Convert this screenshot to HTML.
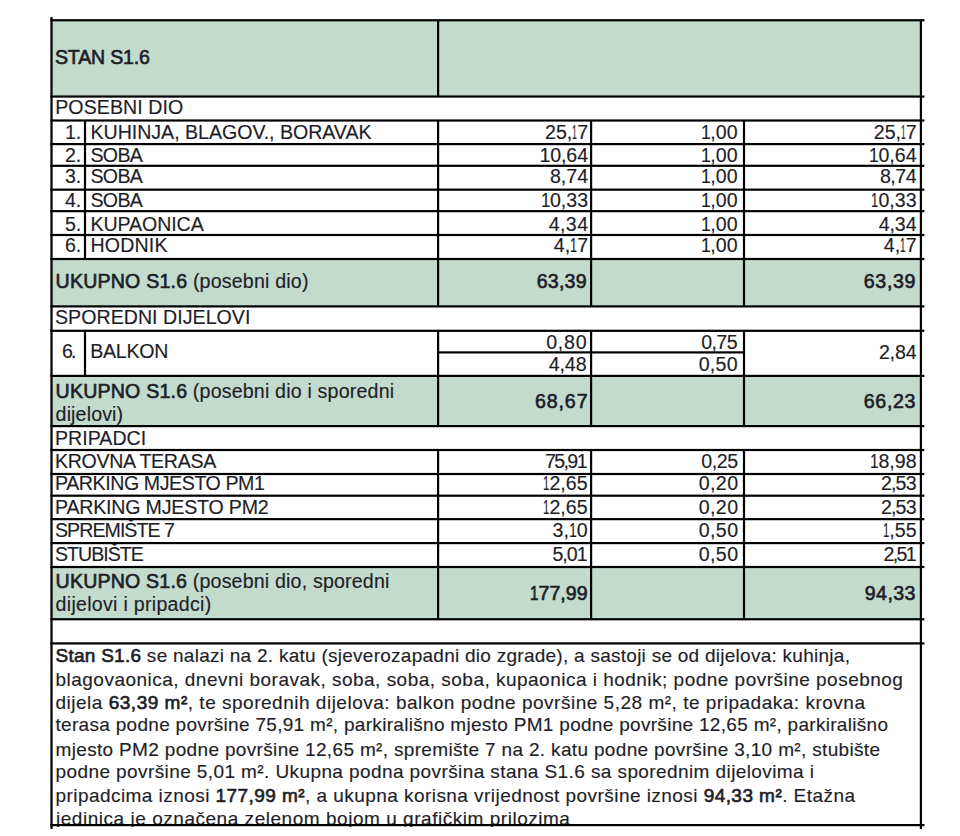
<!DOCTYPE html>
<html><head><meta charset="utf-8"><style>
html,body{margin:0;padding:0;background:#fff;width:960px;height:836px;overflow:hidden;position:relative}
body>div,body>svg{position:absolute}
.t{font-family:"Liberation Sans",sans-serif;color:#1e1e28;white-space:pre;-webkit-text-stroke:0.15px #1e1e28}
b{font-weight:normal;-webkit-text-stroke:0.65px #1e1e28}
</style></head><body>
<div style="left:51.5px;top:20.25px;width:869.4px;height:76.3px;background:#c2dbcd"></div>
<div style="left:51.5px;top:259px;width:869.4px;height:47.39999999999998px;background:#c2dbcd"></div>
<div style="left:51.5px;top:375.9px;width:869.4px;height:50.200000000000045px;background:#c2dbcd"></div>
<div style="left:51.5px;top:567px;width:869.4px;height:52.25px;background:#c2dbcd"></div>
<div class="t" style="left:55.00px;top:48.41px;font-size:19.6px;line-height:19.6px;letter-spacing:-0.200px"><b>STAN S1.6</b></div>
<div class="t" style="left:55.20px;top:98.41px;font-size:19.6px;line-height:19.6px;letter-spacing:0.070px">POSEBNI DIO</div>
<div class="t" style="left:64.90px;top:122.91px;font-size:19.6px;line-height:19.6px;letter-spacing:0.000px">1.</div>
<div class="t" style="left:90.50px;top:122.91px;font-size:19.6px;line-height:19.6px;letter-spacing:-0.025px">KUHINJA, BLAGOV., BORAVAK</div>
<div class="t" style="left:545.00px;top:122.91px;font-size:19.6px;line-height:19.6px;letter-spacing:0.000px">25,<span style="display:inline-block;width:4.90px"><span style="display:inline-block;transform:scaleX(0.450);transform-origin:0 0">1</span></span>7</div>
<div class="t" style="left:700.50px;top:122.91px;font-size:19.6px;line-height:19.6px;letter-spacing:0.000px"><span style="display:inline-block;width:9.80px"><span style="display:inline-block;transform:scaleX(0.899);transform-origin:0 0">1</span></span>,00</div>
<div class="t" style="left:873.75px;top:122.91px;font-size:19.6px;line-height:19.6px;letter-spacing:0.000px">25,<span style="display:inline-block;width:4.65px"><span style="display:inline-block;transform:scaleX(0.427);transform-origin:0 0">1</span></span>7</div>
<div class="t" style="left:64.90px;top:145.91px;font-size:19.6px;line-height:19.6px;letter-spacing:0.000px">2.</div>
<div class="t" style="left:90.50px;top:145.91px;font-size:19.6px;line-height:19.6px;letter-spacing:-0.700px">SOBA</div>
<div class="t" style="left:539.50px;top:145.91px;font-size:19.6px;line-height:19.6px;letter-spacing:-0.125px">10,64</div>
<div class="t" style="left:700.50px;top:145.91px;font-size:19.6px;line-height:19.6px;letter-spacing:0.000px"><span style="display:inline-block;width:9.80px"><span style="display:inline-block;transform:scaleX(0.899);transform-origin:0 0">1</span></span>,00</div>
<div class="t" style="left:868.75px;top:145.91px;font-size:19.6px;line-height:19.6px;letter-spacing:0.000px"><span style="display:inline-block;width:9.65px"><span style="display:inline-block;transform:scaleX(0.885);transform-origin:0 0">1</span></span>0,64</div>
<div class="t" style="left:64.90px;top:167.41px;font-size:19.6px;line-height:19.6px;letter-spacing:0.000px">3.</div>
<div class="t" style="left:90.50px;top:167.41px;font-size:19.6px;line-height:19.6px;letter-spacing:-0.700px">SOBA</div>
<div class="t" style="left:550.00px;top:167.41px;font-size:19.6px;line-height:19.6px;letter-spacing:-0.033px">8,74</div>
<div class="t" style="left:700.50px;top:167.41px;font-size:19.6px;line-height:19.6px;letter-spacing:0.000px"><span style="display:inline-block;width:9.80px"><span style="display:inline-block;transform:scaleX(0.899);transform-origin:0 0">1</span></span>,00</div>
<div class="t" style="left:880.00px;top:167.41px;font-size:19.6px;line-height:19.6px;letter-spacing:-0.533px">8,74</div>
<div class="t" style="left:64.90px;top:190.91px;font-size:19.6px;line-height:19.6px;letter-spacing:0.000px">4.</div>
<div class="t" style="left:90.50px;top:190.91px;font-size:19.6px;line-height:19.6px;letter-spacing:-0.700px">SOBA</div>
<div class="t" style="left:540.50px;top:190.91px;font-size:19.6px;line-height:19.6px;letter-spacing:0.000px"><span style="display:inline-block;width:9.40px"><span style="display:inline-block;transform:scaleX(0.862);transform-origin:0 0">1</span></span>0,33</div>
<div class="t" style="left:700.50px;top:190.91px;font-size:19.6px;line-height:19.6px;letter-spacing:0.000px"><span style="display:inline-block;width:9.80px"><span style="display:inline-block;transform:scaleX(0.899);transform-origin:0 0">1</span></span>,00</div>
<div class="t" style="left:871.25px;top:190.91px;font-size:19.6px;line-height:19.6px;letter-spacing:0.000px"><span style="display:inline-block;width:7.15px"><span style="display:inline-block;transform:scaleX(0.656);transform-origin:0 0">1</span></span>0,33</div>
<div class="t" style="left:64.90px;top:214.91px;font-size:19.6px;line-height:19.6px;letter-spacing:0.000px">5.</div>
<div class="t" style="left:90.50px;top:214.91px;font-size:19.6px;line-height:19.6px;letter-spacing:-0.094px">KUPAONICA</div>
<div class="t" style="left:548.75px;top:214.91px;font-size:19.6px;line-height:19.6px;letter-spacing:0.383px">4,34</div>
<div class="t" style="left:700.50px;top:214.91px;font-size:19.6px;line-height:19.6px;letter-spacing:0.000px"><span style="display:inline-block;width:9.80px"><span style="display:inline-block;transform:scaleX(0.899);transform-origin:0 0">1</span></span>,00</div>
<div class="t" style="left:878.75px;top:214.91px;font-size:19.6px;line-height:19.6px;letter-spacing:-0.117px">4,34</div>
<div class="t" style="left:64.90px;top:235.91px;font-size:19.6px;line-height:19.6px;letter-spacing:0.000px">6.</div>
<div class="t" style="left:90.50px;top:235.91px;font-size:19.6px;line-height:19.6px;letter-spacing:0.160px">HODNIK</div>
<div class="t" style="left:553.75px;top:235.91px;font-size:19.6px;line-height:19.6px;letter-spacing:0.000px">4,<span style="display:inline-block;width:7.05px"><span style="display:inline-block;transform:scaleX(0.647);transform-origin:0 0">1</span></span>7</div>
<div class="t" style="left:700.50px;top:235.91px;font-size:19.6px;line-height:19.6px;letter-spacing:0.000px"><span style="display:inline-block;width:9.80px"><span style="display:inline-block;transform:scaleX(0.899);transform-origin:0 0">1</span></span>,00</div>
<div class="t" style="left:883.75px;top:235.91px;font-size:19.6px;line-height:19.6px;letter-spacing:0.000px">4,<span style="display:inline-block;width:5.55px"><span style="display:inline-block;transform:scaleX(0.509);transform-origin:0 0">1</span></span>7</div>
<div class="t" style="left:55.60px;top:272.41px;font-size:19.6px;line-height:19.6px;letter-spacing:0.188px"><b>UKUPNO S1.6</b> (posebni dio)</div>
<div class="t" style="left:536.80px;top:272.41px;font-size:19.6px;line-height:19.6px;letter-spacing:0.175px"><b>63,39</b></div>
<div class="t" style="left:863.70px;top:272.41px;font-size:19.6px;line-height:19.6px;letter-spacing:0.700px"><b>63,39</b></div>
<div class="t" style="left:55.00px;top:308.41px;font-size:19.6px;line-height:19.6px;letter-spacing:0.031px">SPOREDNI DIJELOVI</div>
<div class="t" style="left:62.00px;top:342.41px;font-size:19.6px;line-height:19.6px;letter-spacing:-1.800px">6.</div>
<div class="t" style="left:90.30px;top:342.41px;font-size:19.6px;line-height:19.6px;letter-spacing:-0.280px">BALKON</div>
<div class="t" style="left:546.25px;top:332.91px;font-size:19.6px;line-height:19.6px;letter-spacing:0.717px">0,80</div>
<div class="t" style="left:701.25px;top:332.91px;font-size:19.6px;line-height:19.6px;letter-spacing:-0.617px">0,75</div>
<div class="t" style="left:548.75px;top:355.41px;font-size:19.6px;line-height:19.6px;letter-spacing:-0.117px">4,48</div>
<div class="t" style="left:698.75px;top:355.41px;font-size:19.6px;line-height:19.6px;letter-spacing:0.217px">0,50</div>
<div class="t" style="left:878.90px;top:342.91px;font-size:19.6px;line-height:19.6px;letter-spacing:-0.167px">2,84</div>
<div class="t" style="left:55.60px;top:382.41px;font-size:19.6px;line-height:19.6px;letter-spacing:0.185px"><b>UKUPNO S1.6</b> (posebni dio i sporedni</div>
<div class="t" style="left:55.60px;top:405.41px;font-size:19.6px;line-height:19.6px;letter-spacing:0.137px">dijelovi)</div>
<div class="t" style="left:535.00px;top:391.91px;font-size:19.6px;line-height:19.6px;letter-spacing:0.875px"><b>68,67</b></div>
<div class="t" style="left:863.70px;top:391.91px;font-size:19.6px;line-height:19.6px;letter-spacing:0.700px"><b>66,23</b></div>
<div class="t" style="left:55.00px;top:428.91px;font-size:19.6px;line-height:19.6px;letter-spacing:0.021px">PRIPADCI</div>
<div class="t" style="left:55.00px;top:451.91px;font-size:19.6px;line-height:19.6px;letter-spacing:-0.329px">KROVNA TERASA</div>
<div class="t" style="left:545.00px;top:451.91px;font-size:19.6px;line-height:19.6px;letter-spacing:-1.625px">75,91</div>
<div class="t" style="left:701.25px;top:451.91px;font-size:19.6px;line-height:19.6px;letter-spacing:-0.450px">0,25</div>
<div class="t" style="left:869.80px;top:451.91px;font-size:19.6px;line-height:19.6px;letter-spacing:0.000px"><span style="display:inline-block;width:8.60px"><span style="display:inline-block;transform:scaleX(0.789);transform-origin:0 0">1</span></span>8,98</div>
<div class="t" style="left:55.00px;top:473.91px;font-size:19.6px;line-height:19.6px;letter-spacing:-0.418px">PARKING MJESTO PM1</div>
<div class="t" style="left:543.00px;top:473.91px;font-size:19.6px;line-height:19.6px;letter-spacing:0.000px"><span style="display:inline-block;width:6.40px"><span style="display:inline-block;transform:scaleX(0.587);transform-origin:0 0">1</span></span>2,65</div>
<div class="t" style="left:698.75px;top:473.91px;font-size:19.6px;line-height:19.6px;letter-spacing:0.383px">0,20</div>
<div class="t" style="left:881.00px;top:473.91px;font-size:19.6px;line-height:19.6px;letter-spacing:-0.867px">2,53</div>
<div class="t" style="left:55.00px;top:497.91px;font-size:19.6px;line-height:19.6px;letter-spacing:-0.197px">PARKING MJESTO PM2</div>
<div class="t" style="left:543.00px;top:497.91px;font-size:19.6px;line-height:19.6px;letter-spacing:0.000px"><span style="display:inline-block;width:6.40px"><span style="display:inline-block;transform:scaleX(0.587);transform-origin:0 0">1</span></span>2,65</div>
<div class="t" style="left:698.75px;top:497.91px;font-size:19.6px;line-height:19.6px;letter-spacing:0.383px">0,20</div>
<div class="t" style="left:881.00px;top:497.91px;font-size:19.6px;line-height:19.6px;letter-spacing:-0.867px">2,53</div>
<div class="t" style="left:55.00px;top:520.91px;font-size:19.6px;line-height:19.6px;letter-spacing:-0.960px">SPREMIŠTE 7</div>
<div class="t" style="left:552.50px;top:520.91px;font-size:19.6px;line-height:19.6px;letter-spacing:0.000px">3,<span style="display:inline-block;width:7.80px"><span style="display:inline-block;transform:scaleX(0.716);transform-origin:0 0">1</span></span>0</div>
<div class="t" style="left:698.75px;top:520.91px;font-size:19.6px;line-height:19.6px;letter-spacing:0.383px">0,50</div>
<div class="t" style="left:883.00px;top:520.91px;font-size:19.6px;line-height:19.6px;letter-spacing:0.000px"><span style="display:inline-block;width:6.30px"><span style="display:inline-block;transform:scaleX(0.578);transform-origin:0 0">1</span></span>,55</div>
<div class="t" style="left:55.00px;top:545.41px;font-size:19.6px;line-height:19.6px;letter-spacing:-1.007px">STUBIŠTE</div>
<div class="t" style="left:552.50px;top:545.41px;font-size:19.6px;line-height:19.6px;letter-spacing:-1.033px">5,01</div>
<div class="t" style="left:698.75px;top:545.41px;font-size:19.6px;line-height:19.6px;letter-spacing:0.383px">0,50</div>
<div class="t" style="left:883.60px;top:545.41px;font-size:19.6px;line-height:19.6px;letter-spacing:-1.733px">2,51</div>
<div class="t" style="left:55.60px;top:572.41px;font-size:19.6px;line-height:19.6px;letter-spacing:0.179px"><b>UKUPNO S1.6</b> (posebni dio, sporedni</div>
<div class="t" style="left:55.60px;top:595.41px;font-size:19.6px;line-height:19.6px;letter-spacing:0.279px">dijelovi i pripadci)</div>
<div class="t" style="left:530.00px;top:584.41px;font-size:19.6px;line-height:19.6px;letter-spacing:0.000px"><b><span style="display:inline-block;width:8.50px"><span style="display:inline-block;transform:scaleX(0.780);transform-origin:0 0">1</span></span>77,99</b></div>
<div class="t" style="left:864.70px;top:583.91px;font-size:19.6px;line-height:19.6px;letter-spacing:0.450px"><b>94,33</b></div>
<div class="t" style="left:55.50px;top:645.92px;font-size:19px;line-height:19px;letter-spacing:0.263px"><b>Stan S1.6</b> se nalazi na 2. katu (sjeverozapadni dio zgrade), a sastoji se od dijelova: kuhinja,</div>
<div class="t" style="left:55.50px;top:669.92px;font-size:19px;line-height:19px;letter-spacing:0.484px">blagovaonica, dnevni boravak, soba, soba, soba, kupaonica i hodnik; podne površine posebnog</div>
<div class="t" style="left:55.50px;top:692.92px;font-size:19px;line-height:19px;letter-spacing:0.509px">dijela <b>63,39 m²</b>, te sporednih dijelova: balkon podne površine 5,28 m², te pripadaka: krovna</div>
<div class="t" style="left:55.50px;top:714.92px;font-size:19px;line-height:19px;letter-spacing:0.302px">terasa podne površine 75,91 m², parkirališno mjesto PM1 podne površine 12,65 m², parkirališno</div>
<div class="t" style="left:55.50px;top:739.92px;font-size:19px;line-height:19px;letter-spacing:0.337px">mjesto PM2 podne površine 12,65 m², spremište 7 na 2. katu podne površine 3,10 m², stubište</div>
<div class="t" style="left:55.50px;top:761.92px;font-size:19px;line-height:19px;letter-spacing:0.406px">podne površine 5,01 m². Ukupna podna površina stana S1.6 sa sporednim dijelovima i</div>
<div class="t" style="left:55.50px;top:785.92px;font-size:19px;line-height:19px;letter-spacing:0.444px">pripadcima iznosi <b>177,99 m²</b>, a ukupna korisna vrijednost površine iznosi <b>94,33 m²</b>. Etažna</div>
<div class="t" style="left:56.00px;top:808.92px;font-size:19px;line-height:19px;letter-spacing:0.531px">jedinica je označena zelenom bojom u grafičkim prilozima</div>
<div style="left:0px;top:827px;width:960px;height:9px;background:#fff"></div>
<svg style="left:0;top:0" width="960" height="836" viewBox="0 0 960 836">
<g fill="#000">
<rect x="50.40" y="19.15" width="874.00" height="2.2"/>
<rect x="50.40" y="95.45" width="874.00" height="2.2"/>
<rect x="50.40" y="119.40" width="874.00" height="2.2"/>
<rect x="50.40" y="143.00" width="874.00" height="2.2"/>
<rect x="50.40" y="164.70" width="874.00" height="2.2"/>
<rect x="50.40" y="188.55" width="874.00" height="2.2"/>
<rect x="50.40" y="210.05" width="874.00" height="2.2"/>
<rect x="50.40" y="233.90" width="874.00" height="2.2"/>
<rect x="50.40" y="257.90" width="874.00" height="2.2"/>
<rect x="50.40" y="305.30" width="874.00" height="2.2"/>
<rect x="50.40" y="329.70" width="874.00" height="2.2"/>
<rect x="438.10" y="351.30" width="305.90" height="2.2"/>
<rect x="50.40" y="374.80" width="874.00" height="2.2"/>
<rect x="50.40" y="425.00" width="874.00" height="2.2"/>
<rect x="50.40" y="448.90" width="874.00" height="2.2"/>
<rect x="50.40" y="472.90" width="874.00" height="2.2"/>
<rect x="50.40" y="494.60" width="874.00" height="2.2"/>
<rect x="50.40" y="518.05" width="874.00" height="2.2"/>
<rect x="50.40" y="542.00" width="874.00" height="2.2"/>
<rect x="50.40" y="565.90" width="874.00" height="2.2"/>
<rect x="50.40" y="618.15" width="874.00" height="2.2"/>
<rect x="50.40" y="642.30" width="874.00" height="2.2"/>
<rect x="50.40" y="824.00" width="874.00" height="2.2"/>
<rect x="50.40" y="17.00" width="2.2" height="812.00"/>
<rect x="919.80" y="20.25" width="2.2" height="808.75"/>
<rect x="437.00" y="20.25" width="2.2" height="76.30"/>
<rect x="437.00" y="120.50" width="2.2" height="185.90"/>
<rect x="590.00" y="120.50" width="2.2" height="185.90"/>
<rect x="742.90" y="120.50" width="2.2" height="185.90"/>
<rect x="437.00" y="330.80" width="2.2" height="95.30"/>
<rect x="590.00" y="330.80" width="2.2" height="95.30"/>
<rect x="742.90" y="330.80" width="2.2" height="95.30"/>
<rect x="437.00" y="450.00" width="2.2" height="169.25"/>
<rect x="590.00" y="450.00" width="2.2" height="169.25"/>
<rect x="742.90" y="450.00" width="2.2" height="169.25"/>
<rect x="83.90" y="120.50" width="2.2" height="138.50"/>
<rect x="83.90" y="330.80" width="2.2" height="45.10"/>
</g></svg>
</body></html>
